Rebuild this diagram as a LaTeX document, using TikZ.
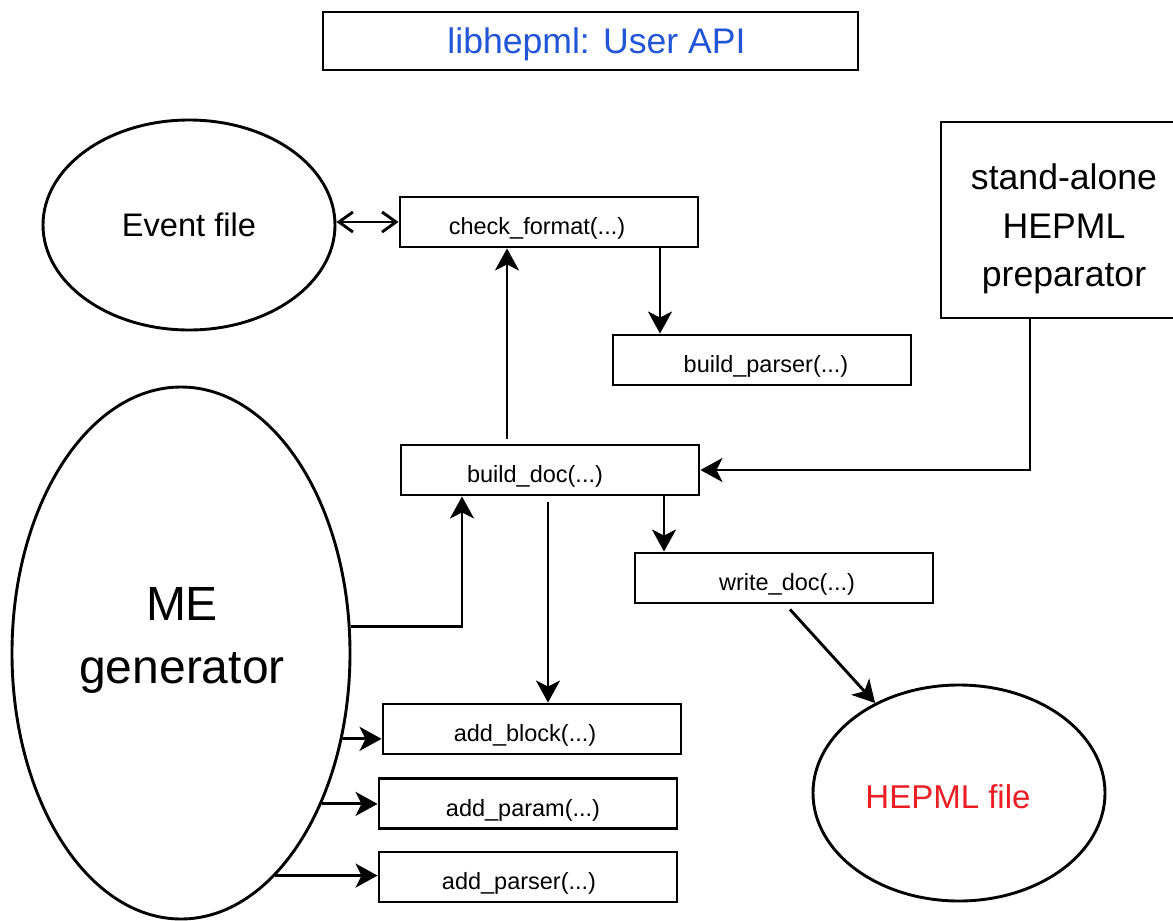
\documentclass[tikz,border=0pt]{standalone}
\usepackage{fontspec}
\setmainfont{Liberation Sans}
\usetikzlibrary{shapes.geometric,arrows.meta}
\definecolor{titleblue}{RGB}{35,85,215}
\definecolor{filered}{RGB}{235,30,35}
\newcommand{\padR}[1]{\hspace*{#1pt}}
\begin{document}
\begin{tikzpicture}[x=1pt,y=-1pt, line width=2.9pt,
  box/.style={draw, rectangle, minimum width=298pt, minimum height=50pt, inner sep=0pt,
              text height=25pt, text depth=0pt, font=\fontsize{23.5}{28}\selectfont},
  oval/.style={draw, ellipse, inner sep=0pt},
  arr/.style={-{Stealth[length=22pt,width=24pt,inset=6pt]}},
  barbs/.style={{Straight Barb[length=14pt,width=20pt]}-{Straight Barb[length=14pt,width=20pt]}}]
\useasboundingbox (0,0) rectangle (1173,921);
\clip (0,0) rectangle (1173,921);

% title
\node[draw, rectangle, minimum width=535pt, minimum height=58pt, inner sep=0pt] (title) at (590.5,41) {};
\node[text=titleblue, font=\fontsize{35.6}{42}\selectfont] (titletext) at (596.5,44) {libhepml: User API};

% ellipses
\node[oval, minimum width=292pt, minimum height=210pt, font=\fontsize{32.6}{38}\selectfont] (evt) at (189,225) {Event file};
\node[oval, minimum width=338pt, minimum height=532pt] (me) at (181,653) {};
\node[align=center, font=\fontsize{48}{63}\selectfont] (metext) at (182,640) {ME\\generator};
\node[oval, minimum width=292pt, minimum height=216pt] (hepml) at (959,793) {};
\node[text=filered, font=\fontsize{33}{40}\selectfont] (hepmltext) at (948,797) {HEPML file};

% stand-alone box
\node[draw, rectangle, minimum width=298pt, minimum height=196pt, inner sep=0pt] (sa) at (1090,220) {};
\node[align=center, font=\fontsize{35.6}{48.5}\selectfont] (satext) at (1064,229) {stand-alone\\HEPML\\preparator};

% function boxes
\node[box] (chk) at (549,222) {check\_format(...)\padR{24}};
\node[box] (bparser) at (762,360) {\padR{8}build\_parser(...)};
\node[box] (bdoc) at (550,470) {build\_doc(...)\padR{30}};
\node[box] (wdoc) at (784,578) {\padR{6}write\_doc(...)};
\node[box] (ablock) at (532,729) {add\_block(...)\padR{14}};
\node[box] (aparam) at (528,803.5) {add\_param(...)\padR{10}};
\node[box] (aparser) at (528,877) {add\_parser(...)\padR{18}};

% connectors
\draw[barbs] (chk.west -| evt.east) -- (chk.west);
\draw[arr] ([xshift=-43pt,yshift=5pt]bdoc.north) -- ([xshift=-42pt]chk.south);
\draw[arr] ([xshift=111pt]chk.south) -- ([xshift=-102pt]bparser.north);
\draw[arr] ([xshift=-60pt]sa.south) |- (bdoc.east);
\draw[arr] (me.9.8) -| ([xshift=-88pt]bdoc.south);
\draw[arr] ([xshift=-2pt,yshift=-6pt]bdoc.south) -- ([xshift=16pt]ablock.north);
\draw[arr] ([xshift=114pt]bdoc.south) -- ([xshift=-120pt]wdoc.north);
\draw[arr] ([xshift=6pt,yshift=-5pt]wdoc.south) -- (hepml.133.3);
\draw[arr] (me.-28.6) -- (me.-28.6 -| ablock.west);
\draw[arr] (me.-47.4) -- (me.-47.4 -| aparam.west);
\draw[arr] (me.-67.9) -- (me.-67.9 -| aparser.west);
\end{tikzpicture}
\end{document}
